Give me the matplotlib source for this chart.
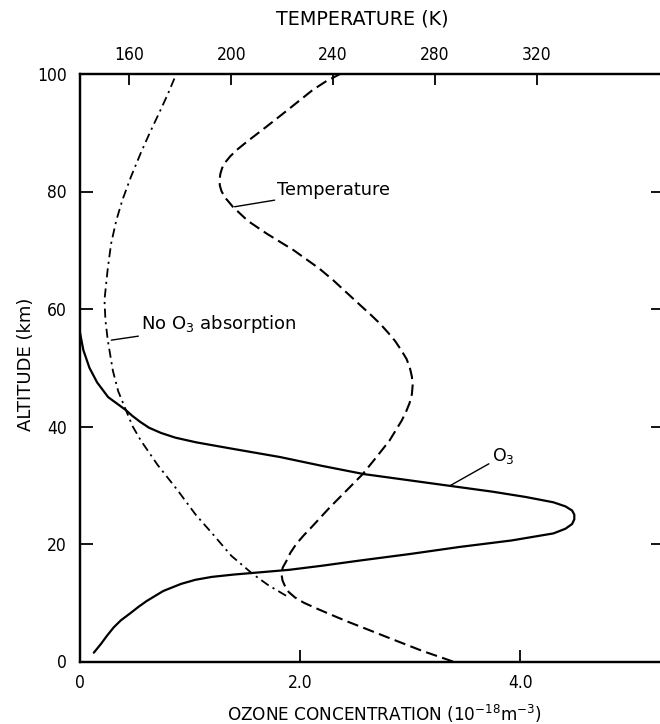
import matplotlib
matplotlib.use("Agg")
import matplotlib.pyplot as plt
from matplotlib import font_manager
from matplotlib.font_manager import FontProperties

# ---------------- data ----------------
# Temperature profile (dashed), K vs altitude km
temp_alt = [0, 1.8, 4, 5.8, 6.9, 8, 9, 10, 10.9, 11.8, 12.6, 13.8, 14.9, 16, 17, 18.5,
            20, 21.5, 23, 26.2, 29, 31.9, 34.8, 37.6, 39.3, 41, 42.5, 44, 45.5, 47,
            48.5, 50, 51.5, 53, 54.5, 56, 57.5, 59, 60.5, 62.5, 64.9, 66.9, 70, 72.8, 75,
            77.4, 78.8, 80, 81, 82, 83, 84, 85, 86, 87.2, 88.5, 91, 94, 97.3, 98.7, 100]
temp_K = [287, 275, 262, 251.5, 245, 239, 233.6, 228.5, 225, 222.6, 221.3, 220.1, 219.7,
          220.2, 221.5, 223.2, 225.5, 228.5, 231.8, 238.6, 245, 251.6, 257, 262.1, 264.5,
          266.9, 268.6, 270, 270.9, 271.2, 270.9, 270.1, 268.8, 266.7, 264.4, 261.5,
          258.4, 254.8, 251, 246, 240, 234.5, 224.5, 214, 206.5, 200.6, 197.9, 196.2,
          195.5, 195.4, 195.7, 196.4, 197.7, 199.6, 202.5, 206.2, 213.7, 222.5, 232, 237,
          242.7]

# Radiative equilibrium without O3 absorption (dash-dot)
noo3_alt = [11.2, 13, 14.9, 18, 21.7, 25, 29.1, 33.5, 37.6, 40, 42.7, 46, 49.5, 54.7,
            58, 61.5, 66.9, 71.1, 75, 78.5, 82.5, 86.5, 90, 93.3, 96.5, 100]
noo3_K = [221.5, 214.5, 208.4, 200, 192.7, 186, 179, 171, 164.5, 161.3, 158.7, 155.6,
          153.5, 151.5, 150.6, 150.2, 151.5, 152.8, 154.8, 157.2, 160.6, 164.4, 168,
          171.6, 175, 178.4]

# Ozone concentration (solid)
o3_alt = [1.5, 3.0, 4.4, 5.8, 7.0, 8.2, 9.3, 10.3, 12.0, 13.2, 13.9, 14.4, 14.8, 15.2,
          15.6, 16.3, 17.2, 18.3, 19.5, 20.6, 21.8, 22.6, 23.4, 24.2, 25.0, 25.7, 26.4,
          27.1, 28.0, 28.9, 29.9, 31.9, 33.3, 34.8, 36.3, 37.3, 38.1, 38.9, 39.8, 40.8,
          41.8, 42.8, 45.0, 47.5, 50.0, 53.0, 56.4]
o3_conc = [0.13, 0.195, 0.25, 0.31, 0.375, 0.46, 0.535, 0.61, 0.76, 0.92, 1.05, 1.2, 1.4,
           1.65, 1.9, 2.2, 2.55, 3.0, 3.45, 3.92, 4.3, 4.41, 4.47, 4.49, 4.49, 4.47,
           4.41, 4.3, 4.05, 3.75, 3.36, 2.58, 2.2, 1.82, 1.36, 1.06, 0.87, 0.74, 0.63,
           0.55, 0.48, 0.42, 0.26, 0.16, 0.09, 0.035, 0.0]

alt_ticks = [0, 20, 40, 60, 80, 100]
o3_ticks = [0, 2, 4]
o3_ticklabels = ["0", "2.0", "4.0"]
temp_ticks = [160, 200, 240, 280, 320]

# ---------------- style ----------------
plt.rcParams["font.family"] = ["DejaVu Sans"]
plt.rcParams["mathtext.default"] = "regular"
has_cond = any(f.name == "DejaVu Sans" and f.stretch == "condensed"
               for f in font_manager.fontManager.ttflist)
tick_fp = FontProperties(family="DejaVu Sans",
                         stretch="condensed" if has_cond else "normal", size=12.5)

W, H = 660, 724
fig = plt.figure(figsize=(W / 100, H / 100), dpi=100)
left_px, right_px, top_px, bot_px = 79.5, 664, 74, 661.5
ax = fig.add_axes([left_px / W, (H - bot_px) / H, (right_px - left_px) / W, (bot_px - top_px) / H])

o3_max = (right_px - left_px) / 110.2
t_min = 140.4
t_max = t_min + (right_px - left_px) / 2.547

ax.set_xlim(0, o3_max)
ax.set_ylim(0, 100)
ax2 = ax.twiny()
ax2.set_xlim(t_min, t_max)

ax.plot(o3_conc, o3_alt, color="black", lw=1.6, solid_capstyle="round",
        solid_joinstyle="round")
ax2.plot(temp_K, temp_alt, color="black", lw=1.5, dashes=(5.5, 2.6),
         dash_joinstyle="round")
ax2.plot(noo3_K, noo3_alt, color="black", lw=1.3, dashes=(5, 2.5, 1.2, 2.5),
         dash_joinstyle="round")

for a in (ax, ax2):
    for s in a.spines.values():
        s.set_linewidth(1.6)
    a.spines["right"].set_visible(False)

ax.set_yticks(alt_ticks)
ax.set_yticklabels([str(t) for t in alt_ticks], fontproperties=tick_fp)
ax.set_xticks(o3_ticks)
ax.set_xticklabels(o3_ticklabels, fontproperties=tick_fp)
ax.tick_params(axis="both", direction="in", length=9, width=1.3, pad=9,
               right=True, top=False)
ax.tick_params(axis="y", length=9.5, pad=9)
ax2.set_xticks(temp_ticks)
ax2.set_xticklabels([str(t) for t in temp_ticks], fontproperties=tick_fp)
ax2.tick_params(axis="x", direction="in", length=8, width=1.3, pad=7)

ax.set_ylabel("ALTITUDE (km)", fontsize=13)
ax.yaxis.set_label_coords((35 - left_px) / (right_px - left_px), 0.506)
ax.set_xlabel("OZONE CONCENTRATION (10$^{-18}$m$^{-3}$)", fontsize=12.2, labelpad=8)
ax.xaxis.label.set_x((384 - left_px) / (right_px - left_px))
ax2.set_xlabel("TEMPERATURE (K)", fontsize=13.8, labelpad=16)
ax2.xaxis.label.set_x((362 - left_px) / (right_px - left_px))

ann = dict(arrowstyle="-", color="black", lw=1.0, shrinkA=0, shrinkB=0)
ax2.annotate("Temperature", xy=(201.3, 77.4), xytext=(218.1, 80.2),
             fontsize=12.8, va="center", ha="left", arrowprops=ann)
ax2.annotate("No O$_3$ absorption", xy=(152.9, 54.7), xytext=(164.6, 57.4),
             fontsize=13.0, va="center", ha="left", arrowprops=ann)
ax.annotate("O$_3$", xy=(3.36, 29.9), xytext=(3.74, 35.0),
            fontsize=12.5, va="center", ha="left", arrowprops=ann)

fig.savefig("out.png", dpi=100)
